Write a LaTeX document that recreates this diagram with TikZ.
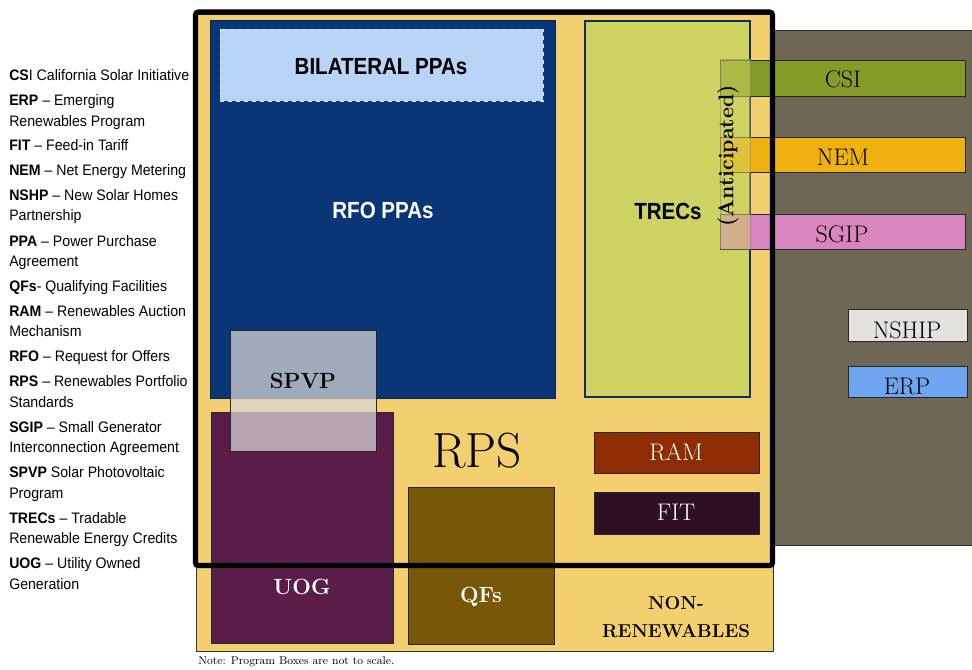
\documentclass[tikz,border=0pt]{standalone}
\usepackage{fontspec}
\newfontfamily\arial[FakeStretch=0.93]{Liberation Sans}
\newfontfamily\arialn[FakeStretch=0.88]{Liberation Sans}
\definecolor{grayback}{HTML}{6E6755}
\definecolor{rpsyellow}{HTML}{F3CF70}
\definecolor{rfoblue}{HTML}{0A3576}
\definecolor{bilblue}{HTML}{B8D4F6}
\definecolor{trecgreen}{HTML}{CDD263}
\definecolor{navyline}{HTML}{0E2E5C}
\definecolor{csigreen}{HTML}{859B27}
\definecolor{nemorange}{HTML}{EEB111}
\definecolor{sgippink}{HTML}{D986C0}
\definecolor{nshipgray}{HTML}{E3E2DE}
\definecolor{erpblue}{HTML}{6DA5F0}
\definecolor{ramred}{HTML}{8E2C02}
\definecolor{fitdark}{HTML}{2E0F26}
\definecolor{uogpurple}{HTML}{5A1D4A}
\definecolor{qfsbrown}{HTML}{785708}
\definecolor{spvpgray}{HTML}{DBD8D6}
\newcommand\legfont{\arial\fontsize{11.4}{13}\selectfont}
\tikzset{
  leg/.style={anchor=base west, inner sep=0pt, font=\legfont},
  progbox/.style={draw=black!85, line width=0.6pt},
  sanslabel/.style={inner sep=0pt, font=\arialn\bfseries\fontsize{17.5}{20}\selectfont},
  seriflabel/.style={inner sep=0pt, font=\fontsize{18}{20}\selectfont},
  boldserif/.style={inner sep=0pt, font=\bfseries\fontsize{16.5}{19}\selectfont},
}
\begin{document}
\begin{tikzpicture}[x=0.75pt,y=-0.75pt]
\useasboundingbox (0,0) rectangle (972,669);
% grey background box of non-RPS programs
\fill[grayback] (700,30) rectangle (972,545);
\draw[black!85, line width=0.6pt] (700,30) -- (972,30) (700,545) -- (972,545);
% outer yellow box (non-renewables)
\path[fill=rpsyellow, draw=black!80, line width=0.6pt] (196,14) rectangle (773,651);
% RFO PPAs
\path[fill=rfoblue, draw=rfoblue!70!black, line width=0.6pt] (210,20) rectangle (555,398);
% Bilateral PPAs
\path[fill=bilblue, draw=white!80!gray, dashed, line width=0.6pt] (220,29) rectangle (543,101);
% TRECs
\path[fill=trecgreen, draw=navyline, line width=1.2pt] (585,21) rectangle (750,397);
% bars
\path[progbox, fill=csigreen] (720,60) rectangle (965,96);
\path[progbox, fill=nemorange] (720,137) rectangle (965,172);
\path[progbox, fill=sgippink] (720,214) rectangle (965,249);
% anticipated overlay
\path[fill=trecgreen, fill opacity=0.55, draw=gray, draw opacity=0.5, line width=0.6pt] (720,59) rectangle (750,249);
% small program boxes
\path[progbox, fill=nshipgray] (848,309) rectangle (967,341);
\path[progbox, fill=erpblue] (848,366) rectangle (967,397);
\path[progbox, fill=ramred] (594,432) rectangle (759,473);
\path[progbox, fill=fitdark] (594,492) rectangle (759,534);
\path[progbox, fill=uogpurple] (211,412) rectangle (393,643);
\path[progbox, fill=qfsbrown] (408,487) rectangle (554,644);
% SPVP (translucent)
\path[fill=spvpgray, fill opacity=0.72, draw=black!85, line width=0.6pt] (230,330) rectangle (376,451);
% thick RPS border
\draw[black, line width=3.8pt, rounded corners=2pt] (195.5,12) rectangle (772.5,565.5);

% labels
\node[sanslabel] (bil) at (381,67) {BILATERAL PPAs};
\node[sanslabel, text=white] (rfo) at (383,210) {RFO PPAs};
\node[sanslabel] (trecs) at (668,211) {TRECs};
\node[inner sep=0pt, rotate=90, font=\bfseries\fontsize{16}{18}\selectfont] (antic) at (728,156) {(Anticipated)};
\node[seriflabel] (csi) at (843,79) {CSI};
\node[seriflabel] (nem) at (843,157) {NEM};
\node[seriflabel] (sgip) at (842,234) {SGIP};
\node[seriflabel] (nship) at (907,330) {NSHIP};
\node[seriflabel] (erp) at (907,386) {ERP};
\node[seriflabel, text=white] (ram) at (676,452) {RAM};
\node[seriflabel, text=white] (fit) at (676,512) {FIT};
\node[inner sep=0pt, font=\fontsize{37}{40}\selectfont] (rps) at (477,451) {RPS};
\node[boldserif] (spvp) at (303,381) {SPVP};
\node[boldserif, text=white] (uog) at (302,587) {UOG};
\node[boldserif, text=white] (qfs) at (481,597) {QFs};
\node[inner sep=0pt, align=center, font=\bfseries\fontsize{14}{20.5}\selectfont] (nonren) at (676,617) {NON-\\RENEWABLES};
\node[anchor=west, inner sep=0pt, font=\fontsize{8.5}{10}\selectfont] (note) at (198,662) {Note: Program Boxes are not to scale.};

% legend
\node[leg] (l1) at (9,80) {\textbf{CS}I California Solar Initiative};
\node[leg] (l2) at (9,105) {\textbf{ERP} – Emerging};
\node[leg] (l2b) at (9,126) {Renewables Program};
\node[leg] (l3) at (9,150) {\textbf{FIT} – Feed-in Tariff};
\node[leg] (l4) at (9,175) {\textbf{NEM} – Net Energy Metering};
\node[leg] (l5) at (9,200) {\textbf{NSHP} – New Solar Homes};
\node[leg] (l5b) at (9,220) {Partnership};
\node[leg] (l6) at (9,246) {\textbf{PPA} – Power Purchase};
\node[leg] (l6b) at (9,266) {Agreement};
\node[leg] (l7) at (9,291) {\textbf{QFs}- Qualifying Facilities};
\node[leg] (l8) at (9,316) {\textbf{RAM} – Renewables Auction};
\node[leg] (l8b) at (9,336) {Mechanism};
\node[leg] (l9) at (9,361) {\textbf{RFO} – Request for Offers};
\node[leg] (l10) at (9,386) {\textbf{RPS} – Renewables Portfolio};
\node[leg] (l10b) at (9,407) {Standards};
\node[leg] (l11) at (9,432) {\textbf{SGIP} – Small Generator};
\node[leg] (l11b) at (9,452) {Interconnection Agreement};
\node[leg] (l12) at (9,477) {\textbf{SPVP} Solar Photovoltaic};
\node[leg] (l12b) at (9,498) {Program};
\node[leg] (l13) at (9,523) {\textbf{TRECs} – Tradable};
\node[leg] (l13b) at (9,543) {Renewable Energy Credits};
\node[leg] (l14) at (9,568) {\textbf{UOG} – Utility Owned};
\node[leg] (l14b) at (9,589) {Generation};
\end{tikzpicture}
\end{document}
